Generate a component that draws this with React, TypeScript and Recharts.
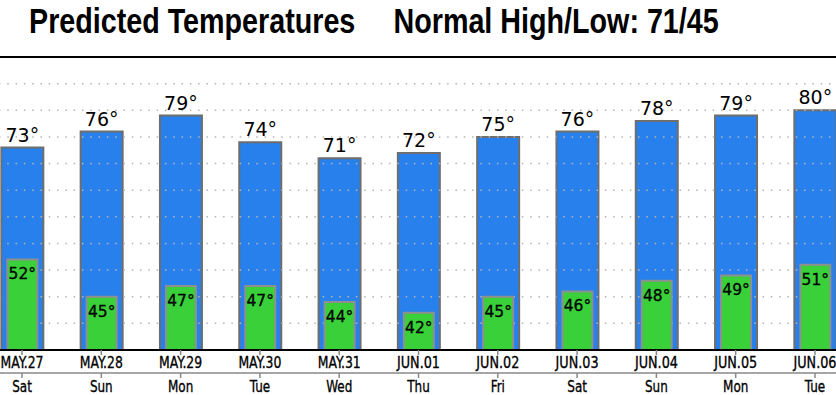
import React from "react";
import {
  BarChart,
  Bar,
  XAxis,
  YAxis,
  CartesianGrid,
  ReferenceLine,
  LabelList,
} from "recharts";

const dates = ["MAY.27", "MAY.28", "MAY.29", "MAY.30", "MAY.31", "JUN.01", "JUN.02", "JUN.03", "JUN.04", "JUN.05", "JUN.06"];
const days = ["Sat", "Sun", "Mon", "Tue", "Wed", "Thu", "Fri", "Sat", "Sun", "Mon", "Tue"];
const highs = [73, 76, 79, 74, 71, 72, 75, 76, 78, 79, 80];
const lows = [52, 45, 47, 47, 44, 42, 45, 46, 48, 49, 51];
const yTicks = [35, 40, 45, 50, 55, 60, 65, 70, 75, 80, 85, 90];
const titleLeft = "Predicted Temperatures";
const titleRight = "Normal High/Low: 71/45";

const data = dates.map((d, i) => ({ date: d, day: days[i], high: highs[i], low: lows[i] }));

const FONT = "'DejaVu Sans', sans-serif";

const DateTick = (props: any) => {
  const { x, y, payload } = props;
  return (
    <text
      x={x}
      y={y + 11.3}
      textAnchor="middle"
      fontFamily={FONT}
      fontSize={16}
      fill="#000"
      stroke="#000"
      strokeWidth={0.35}
      textLength={43}
      lengthAdjust="spacingAndGlyphs"
    >
      {payload.value}
    </text>
  );
};

const DayTick = (props: any) => {
  const { x, y, payload } = props;
  const label = days[payload.index] ?? "";
  return (
    <text
      transform={`translate(${x},${y + 11.7}) scale(0.75,1)`}
      textAnchor="middle"
      fontFamily={FONT}
      fontSize={16}
      fill="#000"
      stroke="#000"
      strokeWidth={0.35}
    >
      {label}
    </text>
  );
};

const deg = (v: any) => `${v}°`;

export default function App() {
  return (
    <div
      style={{
        position: "fixed",
        left: 0,
        top: 0,
        width: 836,
        height: 395,
        overflow: "hidden",
        background: "#fff",
      }}
    >
      <svg width={836} height={57} style={{ position: "absolute", left: 0, top: 0 }}>
        <text
          transform="translate(29,33.3) scale(1,1.2)"
          fontFamily="'Liberation Sans', Arial, sans-serif"
          fontWeight="bold"
          fontSize={28.7}
          fill="#000"
        >
          {titleLeft}
        </text>
        <text
          transform="translate(393.5,33.3) scale(1,1.2)"
          fontFamily="'Liberation Sans', Arial, sans-serif"
          fontWeight="bold"
          fontSize={28.7}
          fill="#000"
        >
          {titleRight}
        </text>
      </svg>
      <div style={{ position: "absolute", left: 0, top: 0 }}>
        <BarChart
          width={836}
          height={395}
          data={data}
          margin={{ top: 57, right: -18.65, bottom: 0, left: -17.65 }}
        >
          <XAxis
            xAxisId="date"
            dataKey="date"
            height={23}
            interval={0}
            axisLine={{ stroke: "#000", strokeWidth: 2 }}
            tickLine={{ stroke: "#888", strokeWidth: 1.5 }}
            tickSize={5}
            tickMargin={2}
            tick={<DateTick />}
          />
          <XAxis
            xAxisId="day"
            dataKey="date"
            height={22}
            interval={0}
            axisLine={{ stroke: "#888", strokeWidth: 1.5 }}
            tickLine={{ stroke: "#888", strokeWidth: 1.5 }}
            tickSize={5}
            tickMargin={2}
            tick={<DayTick />}
          />
          <YAxis hide type="number" domain={[35, 90]} ticks={yTicks} allowDataOverflow />
          <Bar
            xAxisId="date"
            dataKey="high"
            fill="#2780EB"
            stroke="#6e6e6e"
            strokeWidth={2}
            barSize={42}
            isAnimationActive={false}
          >
            <LabelList
              dataKey="high"
              position="top"
              offset={6}
              formatter={deg}
              fontFamily={FONT}
              fontSize={19}
              fill="#000"
            />
          </Bar>
          <CartesianGrid
            xAxisId="date"
            vertical={false}
            stroke="#b4b4b4"
            strokeWidth={1.5}
            strokeDasharray="1.5 6.8"
            zIndex={350}
          />
          <Bar
            xAxisId="day"
            dataKey="low"
            fill="#39D03A"
            stroke="#8f8f8f"
            strokeWidth={2}
            barSize={30}
            isAnimationActive={false}
            zIndex={400}
          >
            <LabelList
              dataKey="low"
              position="insideTop"
              offset={9}
              formatter={deg}
              fontFamily={FONT}
              fontSize={15.5}
              fill="#000"
              stroke="#000"
              strokeWidth={0.3}
            />
          </Bar>
          <ReferenceLine xAxisId="date" y={90} stroke="#000" strokeWidth={2} ifOverflow="visible" />
        </BarChart>
      </div>
    </div>
  );
}
